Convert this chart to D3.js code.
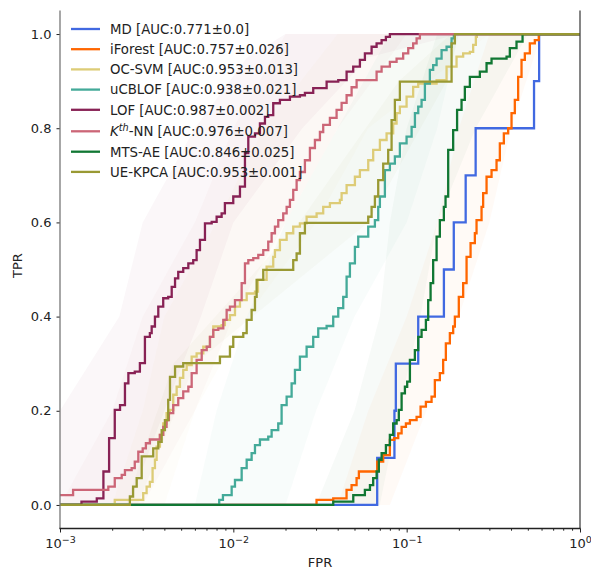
<!DOCTYPE html>
<html>
<head>
<meta charset="utf-8">
<script src="https://cdn.jsdelivr.net/npm/d3@7"></script>
<style>
  body { margin: 0; background: #fff; }
  svg { font-family: "DejaVu Sans", sans-serif; }
</style>
</head>
<body>
<svg id="roc" width="591" height="571"></svg>
<script>
// methods, legend numbers and colours
const methods = ["MD", "iForest", "OC-SVM", "uCBLOF", "LOF", "Kth-NN", "MTS-AE", "UE-KPCA"];
const aucMean = ["0.771", "0.757", "0.953", "0.938", "0.987", "0.976", "0.846", "0.953"];
const aucStd = ["0.0", "0.026", "0.013", "0.021", "0.002", "0.007", "0.025", "0.001"];
const colors = ["#4169e1", "#ff6600", "#ddcc77", "#44aa99", "#882255", "#cc6677", "#117733", "#999933"];

// ROC points [fpr, tpr] (each point = top of a riser)
const rocMD = [[0.001,0],[0.0676,0.1],[0.085,0.2],[0.0866,0.3],[0.1166,0.4],[0.164,0.5],[0.187,0.6],[0.219,0.7],[0.25,0.8],[0.543,0.9],[0.581,1],[1,1]];
const rocIForest = [[0.001,0],[0.0302,0.011],[0.0377,0.014],[0.045,0.032],[0.0481,0.042],[0.0514,0.057],[0.053,0.071],[0.0676,0.092],[0.0732,0.106],[0.08,0.138],[0.0847,0.142],[0.0894,0.152],[0.0935,0.166],[0.099,0.173],[0.1044,0.18],[0.1141,0.187],[0.1203,0.209],[0.1291,0.219],[0.1392,0.23],[0.1454,0.265],[0.1554,0.28],[0.1624,0.308],[0.1683,0.343],[0.1775,0.365],[0.1855,0.379],[0.1897,0.4],[0.1999,0.442],[0.2118,0.471],[0.2216,0.527],[0.2337,0.556],[0.2474,0.577],[0.253,0.605],[0.2704,0.633],[0.2762,0.662],[0.289,0.697],[0.3088,0.711],[0.33,0.732],[0.3448,0.768],[0.3636,0.789],[0.3851,0.8],[0.4027,0.832],[0.4207,0.86],[0.4397,0.909],[0.4599,0.945],[0.4805,0.959],[0.5135,0.98],[0.5487,0.987],[0.5784,1],[1,1]];
const rocOCSVM = [[0.001,0],[0.00207,0.011],[0.00302,0.025],[0.00316,0.039],[0.0033,0.049],[0.00342,0.078],[0.00353,0.096],[0.00361,0.124],[0.00377,0.149],[0.00394,0.173],[0.00412,0.195],[0.00431,0.202],[0.0045,0.234],[0.00471,0.251],[0.00492,0.27],[0.00514,0.287],[0.00538,0.297],[0.00575,0.315],[0.00614,0.322],[0.00671,0.336],[0.00733,0.357],[0.00766,0.379],[0.00856,0.382],[0.00894,0.393],[0.00956,0.403],[0.01022,0.421],[0.01092,0.435],[0.01194,0.449],[0.01333,0.453],[0.01387,0.478],[0.01556,0.506],[0.01699,0.527],[0.01738,0.541],[0.01857,0.563],[0.0203,0.577],[0.02216,0.591],[0.02422,0.598],[0.02647,0.612],[0.03023,0.619],[0.033,0.633],[0.03607,0.641],[0.0412,0.648],[0.04214,0.662],[0.04503,0.679],[0.05028,0.697],[0.05373,0.711],[0.06001,0.732],[0.06411,0.754],[0.07007,0.775],[0.07659,0.789],[0.08361,0.81],[0.08746,0.832],[0.09138,0.846],[0.09988,0.867],[0.109,0.888],[0.1166,0.895],[0.1488,0.902],[0.1699,0.931],[0.194,0.952],[0.2118,0.959],[0.2315,0.962],[0.2419,0.977],[0.2507,0.994],[0.254,1],[1,1]];
const rocUCBLOF = [[0.001,0],[0.00829,0.011],[0.00871,0.021],[0.00978,0.039],[0.01022,0.053],[0.01117,0.078],[0.01194,0.096],[0.01275,0.11],[0.01333,0.127],[0.01424,0.139],[0.0159,0.145],[0.01663,0.159],[0.01816,0.173],[0.01899,0.212],[0.0203,0.23],[0.02169,0.258],[0.02267,0.287],[0.02422,0.315],[0.02647,0.336],[0.0289,0.357],[0.03089,0.375],[0.03453,0.38],[0.03769,0.4],[0.04029,0.418],[0.04305,0.442],[0.04503,0.485],[0.04705,0.513],[0.05028,0.548],[0.05255,0.57],[0.06001,0.591],[0.06557,0.605],[0.06853,0.633],[0.07007,0.655],[0.07488,0.711],[0.08002,0.725],[0.08551,0.74],[0.09138,0.768],[0.09988,0.782],[0.1068,0.803],[0.1116,0.832],[0.1166,0.846],[0.1219,0.86],[0.1274,0.895],[0.1361,0.924],[0.1422,0.934],[0.1488,0.948],[0.159,0.966],[0.1699,0.973],[0.1816,0.991],[0.1872,1],[1,1]];
const rocLOF = [[0.001,0],[0.00133,0.007],[0.00163,0.014],[0.00178,0.071],[0.00192,0.142],[0.00207,0.202],[0.00222,0.212],[0.00237,0.258],[0.00248,0.28],[0.0027,0.283],[0.00289,0.301],[0.00309,0.357],[0.0033,0.365],[0.00338,0.379],[0.00353,0.4],[0.00369,0.421],[0.00394,0.439],[0.00421,0.442],[0.00441,0.463],[0.00461,0.481],[0.00481,0.495],[0.00514,0.503],[0.0055,0.513],[0.00587,0.52],[0.00614,0.541],[0.00642,0.563],[0.00686,0.598],[0.0075,0.601],[0.00801,0.612],[0.00856,0.619],[0.00894,0.641],[0.00999,0.655],[0.01092,0.676],[0.01167,0.747],[0.0122,0.782],[0.01333,0.789],[0.01424,0.81],[0.01522,0.824],[0.0159,0.828],[0.01699,0.853],[0.01857,0.86],[0.02121,0.867],[0.02422,0.87],[0.02588,0.875],[0.0289,0.885],[0.03453,0.899],[0.04029,0.902],[0.04503,0.92],[0.04916,0.931],[0.05373,0.945],[0.05742,0.959],[0.06276,0.973],[0.06707,0.98],[0.07167,0.987],[0.07588,0.994],[0.08002,1],[1,1]];
const rocKNN = [[0.001,0.021],[0.00119,0.032],[0.0019,0.039],[0.00207,0.057],[0.00227,0.064],[0.00237,0.074],[0.00259,0.078],[0.0027,0.092],[0.00283,0.113],[0.003,0.12],[0.00313,0.131],[0.0033,0.139],[0.00377,0.149],[0.00394,0.166],[0.00412,0.18],[0.00425,0.195],[0.0045,0.212],[0.00481,0.227],[0.00514,0.241],[0.0055,0.251],[0.00575,0.28],[0.00614,0.308],[0.00657,0.329],[0.00702,0.336],[0.00733,0.357],[0.00766,0.372],[0.00819,0.375],[0.00875,0.393],[0.00915,0.414],[0.00956,0.421],[0.01022,0.435],[0.01117,0.471],[0.01167,0.513],[0.0122,0.52],[0.01303,0.524],[0.01393,0.531],[0.01488,0.541],[0.0159,0.559],[0.01663,0.577],[0.01738,0.591],[0.01816,0.605],[0.0194,0.619],[0.0203,0.633],[0.02121,0.648],[0.02216,0.669],[0.02318,0.69],[0.02422,0.707],[0.02588,0.732],[0.02766,0.758],[0.02956,0.775],[0.03159,0.792],[0.033,0.807],[0.03607,0.822],[0.03942,0.839],[0.04214,0.854],[0.04503,0.87],[0.04812,0.887],[0.05143,0.902],[0.06707,0.92],[0.07167,0.931],[0.08002,0.941],[0.08746,0.948],[0.09547,0.959],[0.1021,0.97],[0.109,0.98],[0.1141,0.991],[0.1192,1],[1,1]];
const rocMTSAE = [[0.001,0],[0.0377,0.007],[0.0492,0.021],[0.0574,0.032],[0.0614,0.042],[0.0641,0.057],[0.0671,0.071],[0.0691,0.096],[0.0717,0.11],[0.0759,0.127],[0.08,0.149],[0.0836,0.173],[0.0875,0.18],[0.0901,0.202],[0.0935,0.237],[0.0977,0.251],[0.1007,0.262],[0.1044,0.308],[0.1115,0.329],[0.1166,0.357],[0.1219,0.372],[0.1291,0.393],[0.1331,0.435],[0.1374,0.471],[0.1422,0.52],[0.1488,0.57],[0.1554,0.605],[0.1639,0.633],[0.1676,0.655],[0.1736,0.754],[0.1855,0.796],[0.1954,0.839],[0.2073,0.86],[0.2166,0.888],[0.2315,0.909],[0.2644,0.92],[0.289,0.938],[0.3088,0.948],[0.3769,0.952],[0.3937,0.97],[0.4303,0.984],[0.4662,1],[1,1]];
const rocUEKPCA = [[0.001,0],[0.00253,0.018],[0.00264,0.039],[0.00277,0.057],[0.00296,0.103],[0.00345,0.12],[0.00369,0.134],[0.00386,0.159],[0.00403,0.18],[0.00421,0.223],[0.00431,0.272],[0.00461,0.294],[0.00514,0.301],[0.00837,0.315],[0.00956,0.336],[0.00999,0.357],[0.01141,0.365],[0.01194,0.393],[0.01275,0.414],[0.01333,0.442],[0.01363,0.478],[0.01488,0.499],[0.02216,0.52],[0.02318,0.534],[0.02422,0.577],[0.02588,0.599],[0.06001,0.612],[0.06276,0.633],[0.06557,0.655],[0.06853,0.69],[0.07322,0.725],[0.07824,0.754],[0.08184,0.817],[0.08551,0.86],[0.09138,0.899],[0.1816,0.98],[0.1897,1],[1,1]];

// std bands [tpr, fpr low, fpr high]
const bandMD = [];
const bandIForest = [[0,0.04,0.08],[0.2,0.06,0.13],[0.4,0.1,0.2],[0.6,0.15,0.3],[0.8,0.2,0.4],[1,0.3,0.6]];
const bandOCSVM = [[0,0.002,0.004],[0.2,0.003,0.006],[0.4,0.004,0.012],[0.6,0.008,0.03],[0.8,0.015,0.06],[1,0.04,0.3]];
const bandUCBLOF = [[0,0.006,0.02],[0.2,0.008,0.03],[0.4,0.012,0.05],[0.6,0.02,0.1],[0.8,0.04,0.15],[1,0.08,0.2]];
const bandLOF = [[0,0.001,0.0025],[0.2,0.001,0.004],[0.4,0.0022,0.0065],[0.6,0.003,0.01],[0.8,0.006,0.025],[0.95,0.012,0.06],[1,0.02,0.2]];
const bandKNN = [[0,0.001,0.003],[0.2,0.002,0.006],[0.4,0.003,0.01],[0.6,0.006,0.02],[0.8,0.01,0.04],[1,0.02,0.1]];
const bandMTSAE = [[0,0.03,0.07],[0.2,0.05,0.09],[0.4,0.07,0.12],[0.6,0.08,0.15],[0.8,0.1,0.25],[1,0.15,0.5]];
const bandUEKPCA = [[0,0.0024,0.0028],[0.3,0.0045,0.006],[0.6,0.024,0.06],[0.9,0.09,0.17],[1,0.18,0.2]];

const curves = [rocMD, rocIForest, rocOCSVM, rocUCBLOF, rocLOF, rocKNN, rocMTSAE, rocUEKPCA];
const bands = [bandMD, bandIForest, bandOCSVM, bandUCBLOF, bandLOF, bandKNN, bandMTSAE, bandUEKPCA];

const xMajor = [1e-3, 1e-2, 1e-1, 1];
const xExp = ["\u22123", "\u22122", "\u22121", "0"];
const yTicks = [0, 0.2, 0.4, 0.6, 0.8, 1.0];

const svg = d3.select('#roc');
const padL = 60, padR = 580, padT = 10.5, padB = 528.5;

const x = d3.scaleLog().domain([1e-3, 1]).range([padL, padR]);
const y = d3.scaleLinear().domain([-0.05, 1.05]).range([padB, padT]);

svg.append("defs").append("clipPath").attr("id", "plotclip")
  .append("rect").attr("x", padL).attr("y", padT)
  .attr("width", padR - padL).attr("height", padB - padT);

const plot = svg.append("g").attr("clip-path", "url(#plotclip)");

// faint std bands
const band = d3.area()
  .y(d => y(d[0]))
  .x0(d => x(d[1]))
  .x1(d => x(d[2]));
bands.forEach((b, i) => {
  if (!b.length) return;
  plot.append("path").attr("d", band(b))
    .attr("fill", colors[i]).attr("fill-opacity", 0.035);
});

// ROC step lines
const line = d3.line()
  .x(d => x(d[0]))
  .y(d => y(d[1]))
  .curve(d3.curveStepAfter);
curves.forEach((c, i) => {
  plot.append("path").attr("d", line(c))
    .attr("fill", "none").attr("stroke", colors[i])
    .attr("stroke-width", 2.3).attr("stroke-linejoin", "miter");
});

// y axis
const yAxis = d3.axisLeft(y).tickValues(yTicks).tickSize(3.5).tickPadding(5)
  .tickFormat(d3.format(".1f"));
const gy = svg.append("g").attr("transform", `translate(${padL},0)`).call(yAxis);
gy.select(".domain").remove();
gy.selectAll("line").attr("stroke", "#222");
gy.selectAll("text").attr("font-size", 13).attr("font-family", "DejaVu Sans").attr("fill", "#222");

// x axis minor ticks
const minor = [];
[1e-3, 1e-2, 1e-1].forEach(dec => { for (let k = 2; k <= 9; k++) minor.push(dec * k); });
const gxm = svg.append("g").attr("transform", `translate(0,${padB})`)
  .call(d3.axisBottom(x).tickValues(minor).tickSize(2.2).tickFormat(""));
gxm.select(".domain").remove();
gxm.selectAll("line").attr("stroke", "#222");

// x axis major ticks
const gx = svg.append("g").attr("transform", `translate(0,${padB})`)
  .call(d3.axisBottom(x).tickValues(xMajor).tickSize(4).tickFormat(""));
gx.select(".domain").remove();
gx.selectAll("line").attr("stroke", "#222");
gx.selectAll(".tick").each(function(d, i) {
  const t = d3.select(this).append("text")
    .attr("y", 19.5).attr("font-size", 13).attr("fill", "#222")
    .attr("font-family", "DejaVu Sans").attr("text-anchor", "middle");
  t.append("tspan").text("10");
  t.append("tspan").attr("dy", -5.5).attr("font-size", 9.5).text(xExp[i]);
});

// spines
svg.append("line").attr("x1", padL).attr("x2", padL).attr("y1", padT).attr("y2", padB)
  .attr("stroke", "#777").attr("stroke-width", 1.3);
svg.append("line").attr("x1", padR).attr("x2", padR).attr("y1", padT).attr("y2", padB)
  .attr("stroke", "#444").attr("stroke-width", 1.3);
svg.append("line").attr("x1", padL - 0.6).attr("x2", padR + 0.6).attr("y1", padB).attr("y2", padB)
  .attr("stroke", "#222").attr("stroke-width", 1.3);

// axis titles
svg.append("text").attr("x", (padL + padR) / 2).attr("y", 567)
  .attr("text-anchor", "middle").attr("font-size", 13).attr("fill", "#222").text("FPR");
svg.append("text").attr("transform", `translate(22,${(padT + padB) / 2 - 4}) rotate(-90)`)
  .attr("text-anchor", "middle").attr("font-size", 13).attr("fill", "#222").text("TPR");

// legend
const legend = svg.append("g");
methods.forEach((m, i) => {
  const ly = 29 + i * 20.2 + (i >= 5 ? 1.3 : 0) + (i >= 6 ? 0.2 : 0);
  legend.append("line").attr("x1", 71).attr("x2", 100).attr("y1", ly).attr("y2", ly)
    .attr("stroke", colors[i]).attr("stroke-width", 2.3);
  const t = legend.append("text").attr("x", 110).attr("y", ly + 4.8)
    .attr("font-size", 13.3).attr("fill", "#222");
  const tail = ` [AUC:${aucMean[i]}\u00b1${aucStd[i]}]`;
  if (m === "Kth-NN") {
    t.append("tspan").attr("font-style", "italic").text("K");
    t.append("tspan").attr("font-style", "italic").attr("font-size", 9.7).attr("dy", -5).text("th");
    t.append("tspan").attr("dy", 5).text("-NN" + tail);
  } else {
    t.text(m + tail);
  }
});
</script>
</body>
</html>
